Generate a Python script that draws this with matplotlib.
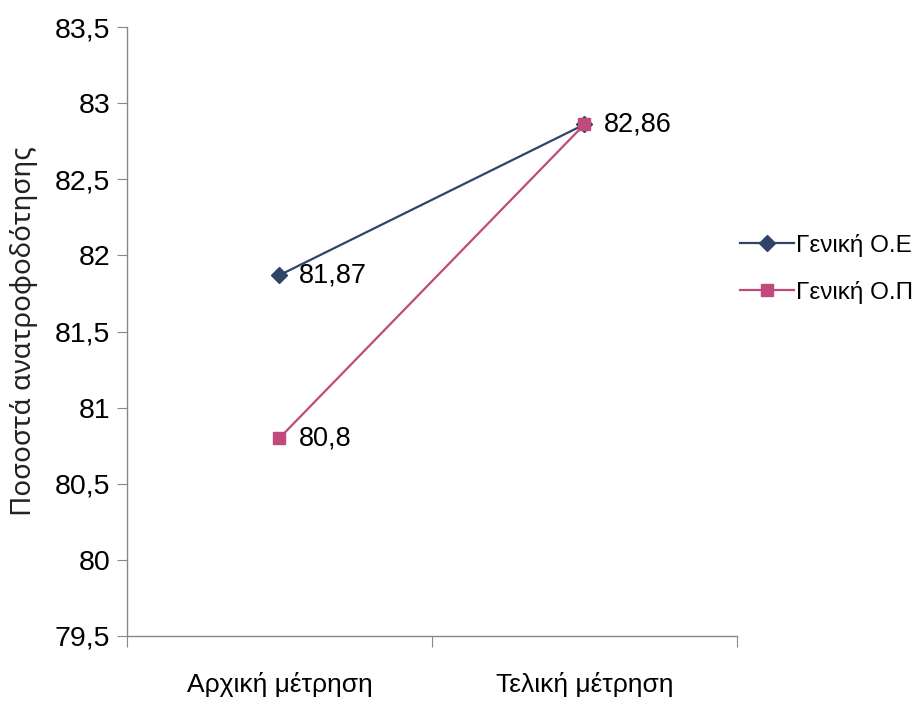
import matplotlib.pyplot as plt

plt.rcParams['font.family'] = ['Liberation Sans', 'DejaVu Sans']

# data
categories = ['Αρχική μέτρηση', 'Τελική μέτρηση']
series_names = ['Γενική Ο.Ε', 'Γενική Ο.Π']
series_oe = [81.87, 82.86]
series_op = [80.8, 82.86]
yticks = [79.5, 80, 80.5, 81, 81.5, 82, 82.5, 83, 83.5]

fig = plt.figure(figsize=(9.17, 7.04), dpi=100)
ax = fig.add_axes([0.1385, 0.0966, 0.665, 0.865])

x = list(range(len(categories)))
ax.plot(x, series_oe, color='#2f4468', lw=1.6, marker='D', ms=8, label=series_names[0], zorder=3)
ax.plot(x, series_op, color='#c04a7c', lw=1.6, marker='s', ms=8, label=series_names[1], zorder=3)

def fmt(v):
    return ('%g' % v).replace('.', ',')

for xi, v in zip(x, series_oe):
    if xi == 0:
        ax.annotate(fmt(v), (xi, v), xytext=(14, 0), textcoords='offset points',
                    va='center', ha='left', fontsize=19.5)
for xi, v in zip(x, series_op):
    ax.annotate(fmt(v), (xi, v), xytext=(14, 0), textcoords='offset points',
                va='center', ha='left', fontsize=19.5)

ax.set_xlim(-0.5, 1.5)
ax.set_ylim(79.5, 83.5)
ax.set_yticks(yticks)
ax.set_yticklabels([fmt(t) for t in yticks], fontsize=20.5)
ax.set_xticks([-0.5, 0.5, 1.5])
ax.set_xticklabels([])
ax.set_xticks(x, minor=True)
ax.set_xticklabels(categories, minor=True, fontsize=19)
ax.tick_params(axis='x', which='minor', length=0, pad=26)
ax.tick_params(axis='x', which='major', direction='out', length=8, color='#888888')
ax.tick_params(axis='y', direction='out', length=7, color='#888888', pad=5)

for s in ['top', 'right']:
    ax.spines[s].set_visible(False)
for s in ['left', 'bottom']:
    ax.spines[s].set_color('#888888')
    ax.spines[s].set_linewidth(1.0)

ax.set_ylabel('Ποσοστά ανατροφοδότησης', fontsize=20, labelpad=12,
              family=['Noto Sans', 'DejaVu Sans'], color='#222222')

ax.legend(loc='center left', bbox_to_anchor=(0.97, 0.603), frameon=False,
          fontsize=17.5, handlelength=2.2, handletextpad=0.1, labelspacing=1.0)

fig.savefig('out.png', dpi=100, facecolor='white')
